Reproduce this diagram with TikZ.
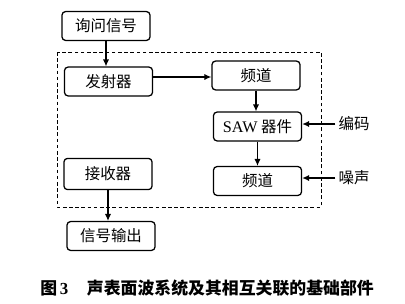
\documentclass[tikz,border=0pt]{standalone}
\usepackage{fontspec}
\setmainfont{Liberation Serif}
\newfontfamily\cjk{Noto Sans CJK SC}
\usetikzlibrary{arrows.meta}
\begin{document}
\begin{tikzpicture}[x=0.025cm,y=-0.025cm,
  blk/.style={draw,line width=0.9pt,rounded corners=2.5pt,minimum width=2.2cm,minimum height=0.72cm,inner sep=0pt,font=\cjk\fontsize{11}{13}\selectfont},
  lbl/.style={inner sep=0pt,font=\cjk\fontsize{11}{13}\selectfont},
  arr/.style={line width=0.9pt,-{Latex[length=5pt,width=4.5pt]}},
  frame/.style={line width=0.7pt,dash pattern=on 2.6pt off 1.8pt}]
\useasboundingbox (0,0) rectangle (405,303);
\draw[frame] (57,52) rectangle (321,207);
\node[blk] (q) at (106,26) {询问信号};
\node[blk] (f) at (108.5,81.5) {发射器};
\node[blk] (c1) at (256,75.5) {频道};
\node[blk] (saw) at (257.5,126.5) {{\rmfamily\fontsize{11.5}{13}\selectfont SAW} 器件};
\node[blk] (c2) at (257.5,181) {频道};
\node[blk,minimum height=0.78cm] (r) at (108,174) {接收器};
\node[blk] (o) at (111,236) {信号输出};
\node[lbl] (bm) at (354,124) {编码};
\node[lbl] (zs) at (354,178) {噪声};
\draw[arr] (q.south) -- (q.south |- f.north);
\draw[arr] (f.east |- 0,77) -- (c1.west |- 0,77);
\draw[arr] (c1.south) -- (c1.south |- saw.north);
\draw[arr] (saw.south) -- (saw.south |- c2.north);
\draw[arr] (bm.west) ++(-3,0) -- (bm.west -| saw.east);
\draw[arr] (zs.west) ++(-3,0) -- (zs.west -| c2.east);
\draw[arr] (r.south) -- (r.south |- o.north);
\node[anchor=west,inner sep=0pt,font=\cjk\bfseries\fontsize{12}{14}\selectfont] (cap) at (40,288) {图\,{\rmfamily\bfseries 3}\hspace{1.1em}声表面波系统及其相互关联的基础部件};
\end{tikzpicture}
\end{document}
